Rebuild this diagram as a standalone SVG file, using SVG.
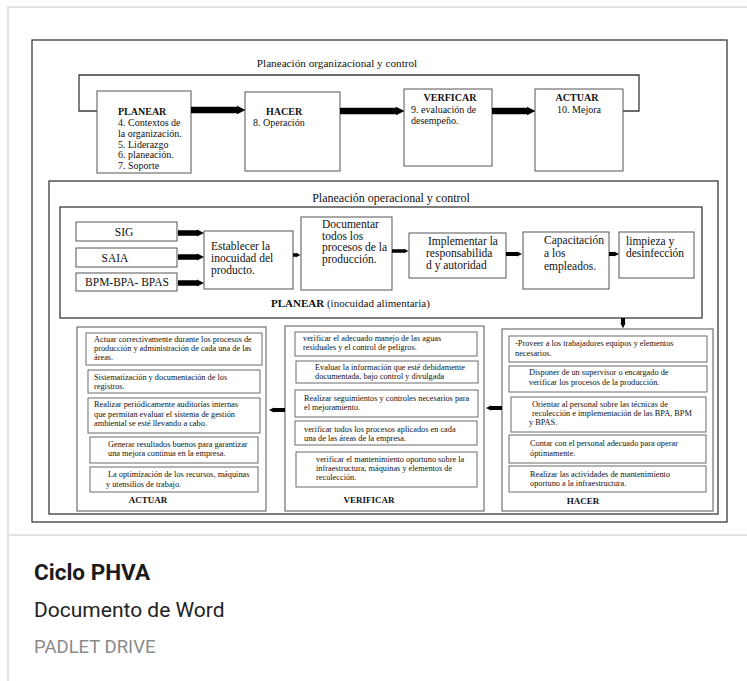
<svg xmlns="http://www.w3.org/2000/svg" width="747" height="681" viewBox="0 0 747 681">
<defs>
<style>
.card{stroke:#e2e2e2;stroke-width:2;fill:none}
.frame{fill:none;stroke:#3a3a3a;stroke-width:1.3}
.box{fill:#fff;stroke:#555;stroke-width:1}
.ibox{fill:#fff;stroke:#6a6a6a;stroke-width:1}
.arr{stroke:#000;fill:none;marker-end:url(#ah)}
.s{font-family:"Liberation Serif","Times New Roman",serif;fill:#111}
.t10{font-size:10px}
.t11{font-size:11.5px}
.t8{font-size:8.3px}
.b{font-weight:bold}
.c{text-anchor:middle}
.cap{font-family:Roboto,"Liberation Sans",sans-serif}
</style>
<marker id="ah" viewBox="0 0 10 10" refX="0" refY="5" markerWidth="1.3" markerHeight="1.9" orient="auto" markerUnits="strokeWidth">
<path d="M0,0 L10,5 L0,10 z" fill="#000"/>
</marker>
</defs>
<rect width="747" height="681" fill="#fff"/>
<g id="card">
<path class="card" d="M8,681 V7 H747 M8,535 H747"/>
</g>
<g id="frames">
<rect class="frame" x="32" y="40" width="695" height="482"/>
<polyline class="frame" points="97,111 79,111 79,75 639,75 639,111 623,111"/>
<rect class="frame" x="49" y="181" width="669" height="333"/>
<rect class="frame" x="60" y="207" width="642" height="111"/>
</g>
<text class="s c" x="337" y="67" font-size="11.2">Planeación organizacional y control</text>
<text class="s c" x="391" y="202" font-size="12">Planeación operacional y control</text>
<text class="s" x="271" y="307" font-size="11"><tspan class="b">PLANEAR</tspan> (inocuidad alimentaria)</text>

<g id="n-planear">
<rect class="box" x="97" y="91" width="94" height="82"/>
<text class="s t10"><tspan class="b" x="118" y="115">PLANEAR</tspan><tspan x="118" y="126">4. Contextos de</tspan><tspan x="118" y="137">la organización.</tspan><tspan x="118" y="147.5">5. Liderazgo</tspan><tspan x="118" y="158">6. planeación.</tspan><tspan x="118" y="169">7. Soporte</tspan></text>
</g>
<g id="n-hacer">
<rect class="box" x="245" y="92" width="95" height="79"/>
<text class="s t10"><tspan class="b" x="266" y="115">HACER</tspan><tspan x="253" y="126">8. Operación</tspan></text>
</g>
<g id="n-verificar">
<rect class="box" x="404" y="89" width="88" height="77"/>
<text class="s t10"><tspan class="b c" x="450" y="101">VERFICAR</tspan><tspan x="411" y="113">9. evaluación de</tspan><tspan x="411" y="124">desempeño.</tspan></text>
</g>
<g id="n-actuar">
<rect class="box" x="535" y="89" width="88" height="82"/>
<text class="s t10"><tspan class="b c" x="577" y="101">ACTUAR</tspan><tspan class="c" x="579" y="113">10. Mejora</tspan></text>
</g>

<g id="n-sig">
<rect class="box" x="76" y="222" width="101" height="19"/>
<text class="s t11 c" x="124" y="236">SIG</text>
</g>
<g id="n-saia">
<rect class="box" x="76" y="248" width="101" height="19"/>
<text class="s t11 c" x="115" y="262">SAIA</text>
</g>
<g id="n-bpm">
<rect class="box" x="76" y="273" width="101" height="18"/>
<text class="s t11 c" x="127" y="286">BPM-BPA- BPAS</text>
</g>
<g id="n-establecer">
<rect class="box" x="204" y="231" width="89" height="58"/>
<text class="s t11"><tspan x="211" y="250">Establecer la</tspan><tspan x="211" y="262">inocuidad del</tspan><tspan x="211" y="274">producto.</tspan></text>
</g>
<g id="n-documentar">
<rect class="box" x="301" y="217" width="91" height="73"/>
<text class="s t11"><tspan x="322" y="228">Documentar</tspan><tspan x="322" y="240">todos los</tspan><tspan x="322" y="251">procesos de la</tspan><tspan x="322" y="263">producción.</tspan></text>
</g>
<g id="n-implementar">
<rect class="box" x="409" y="233" width="97" height="45"/>
<text class="s t11"><tspan x="428" y="245">Implementar la</tspan><tspan x="426" y="257">responsabilida</tspan><tspan x="426" y="269">d y autoridad</tspan></text>
</g>
<g id="n-capacitacion">
<rect class="box" x="523" y="232" width="86" height="57"/>
<text class="s t11"><tspan x="544" y="244">Capacitación</tspan><tspan x="544" y="257">a los</tspan><tspan x="544" y="270">empleados.</tspan></text>
</g>
<g id="n-limpieza">
<rect class="box" x="619" y="232" width="75" height="46"/>
<text class="s t11"><tspan x="626" y="245">limpieza y</tspan><tspan x="626" y="257">desinfección</tspan></text>
</g>

<g id="n-actuar2">
<rect class="box" x="77" y="327" width="189" height="184"/>
<rect class="ibox" x="86" y="333" width="176" height="32"/>
<rect class="ibox" x="88" y="370" width="172" height="23"/>
<rect class="ibox" x="88" y="398" width="172" height="35"/>
<rect class="ibox" x="90" y="437" width="168" height="26"/>
<rect class="ibox" x="90" y="467" width="168" height="25"/>
<text class="s t8"><tspan x="94" y="342">Actuar correctivamente durante los procesos de</tspan><tspan x="94" y="351">producción y administración de cada una de las</tspan><tspan x="94" y="360">áreas.</tspan><tspan x="94" y="380">Sistematización y documentación de los</tspan><tspan x="94" y="389">registros.</tspan><tspan x="94" y="407">Realizar periódicamente auditorías internas</tspan><tspan x="94" y="417">que permitan evaluar el sistema de gestión</tspan><tspan x="94" y="426">ambiental se esté llevando a cabo.</tspan><tspan x="108" y="447">Generar resultados buenos para garantizar</tspan><tspan x="108" y="456">una mejora continua en la empresa.</tspan><tspan x="108" y="477">La optimización de los recursos, máquinas</tspan><tspan x="106" y="487">y utensilios de trabajo.</tspan></text>
<text class="s b c" x="148" y="503" font-size="9">ACTUAR</text>
</g>
<g id="n-verificar2">
<rect class="box" x="285" y="326" width="199" height="185"/>
<rect class="ibox" x="295" y="332" width="182" height="24"/>
<rect class="ibox" x="296" y="361" width="182" height="22"/>
<rect class="ibox" x="295" y="390" width="183" height="27"/>
<rect class="ibox" x="295" y="421" width="182" height="24"/>
<rect class="ibox" x="296" y="452" width="181" height="35"/>
<text class="s t8"><tspan x="303" y="341">verificar el adecuado manejo de las aguas</tspan><tspan x="303" y="350">residuales y el control de peligros.</tspan><tspan x="315" y="370">Evaluar la información que esté debidamente</tspan><tspan x="315" y="379">documentada, bajo control y divulgada</tspan><tspan x="304" y="401">Realizar seguimientos y controles necesarios para</tspan><tspan x="304" y="410">el mejoramiento.</tspan><tspan x="304" y="432">verificar todos los procesos aplicados en cada</tspan><tspan x="304" y="441">una de las áreas de la empresa.</tspan><tspan x="316" y="462">verificar el mantenimiento oportuno sobre la</tspan><tspan x="316" y="471">infraestructura, máquinas y elementos de</tspan><tspan x="316" y="480">recolección.</tspan></text>
<text class="s b c" x="369" y="503" font-size="9">VERIFICAR</text>
</g>
<g id="n-hacer2">
<rect class="box" x="502" y="329" width="211" height="182"/>
<rect class="ibox" x="509" y="336" width="198" height="26"/>
<rect class="ibox" x="509" y="366" width="198" height="26"/>
<rect class="ibox" x="511" y="397" width="195" height="35"/>
<rect class="ibox" x="509" y="435" width="197" height="28"/>
<rect class="ibox" x="509" y="466" width="197" height="26"/>
<text class="s t8"><tspan x="515" y="346">-Proveer a los trabajadores equipos y elementos</tspan><tspan x="515" y="356">necesarios.</tspan><tspan x="529" y="375">Disponer de un supervisor o encargado de</tspan><tspan x="529" y="385">verificar los procesos de la producción.</tspan><tspan x="532" y="407">Orientar al personal sobre las técnicas de</tspan><tspan x="532" y="416">recolección e implementación de las BPA, BPM</tspan><tspan x="529" y="425">y BPAS.</tspan><tspan x="530" y="446">Contar con el personal adecuado para operar</tspan><tspan x="530" y="456">óptimamente.</tspan><tspan x="530" y="477">Realizar las actividades de mantenimiento</tspan><tspan x="530" y="486">oportuno a la infraestructura.</tspan></text>
<text class="s b c" x="583" y="504" font-size="9">HACER</text>
</g>

<g id="connectors">
<line class="arr" x1="191" y1="110" x2="237" y2="110" stroke-width="6.5"/>
<line class="arr" x1="340" y1="111" x2="396" y2="111" stroke-width="6.5"/>
<line class="arr" x1="492" y1="111" x2="527" y2="111" stroke-width="6.5"/>
<line class="arr" x1="178" y1="233" x2="197" y2="233" stroke-width="5.5"/>
<line class="arr" x1="178" y1="257" x2="197" y2="257" stroke-width="5.5"/>
<line class="arr" x1="178" y1="283" x2="197" y2="283" stroke-width="5.5"/>
<line class="arr" x1="293" y1="255" x2="296" y2="255" stroke-width="3.5"/>
<line class="arr" x1="392" y1="251" x2="404" y2="251" stroke-width="3.5"/>
<line class="arr" x1="506" y1="254" x2="517" y2="254" stroke-width="4"/>
<line class="arr" x1="609" y1="254" x2="614" y2="254" stroke-width="4"/>
<line class="arr" x1="623" y1="318" x2="623" y2="323" stroke-width="4"/>
<line class="arr" x1="502" y1="408" x2="491" y2="408" stroke-width="4"/>
<line class="arr" x1="285" y1="410" x2="274" y2="410" stroke-width="4"/>
</g>

<g id="caption">
<text class="cap" x="34" y="580" font-size="22.5" font-weight="bold" fill="#1b1b1b">Ciclo PHVA</text>
<text class="cap" x="34" y="617" font-size="21" fill="#222">Documento de Word</text>
<text class="cap" x="34" y="653" font-size="18.5" fill="#8a8a8a">PADLET DRIVE</text>
</g>
</svg>
